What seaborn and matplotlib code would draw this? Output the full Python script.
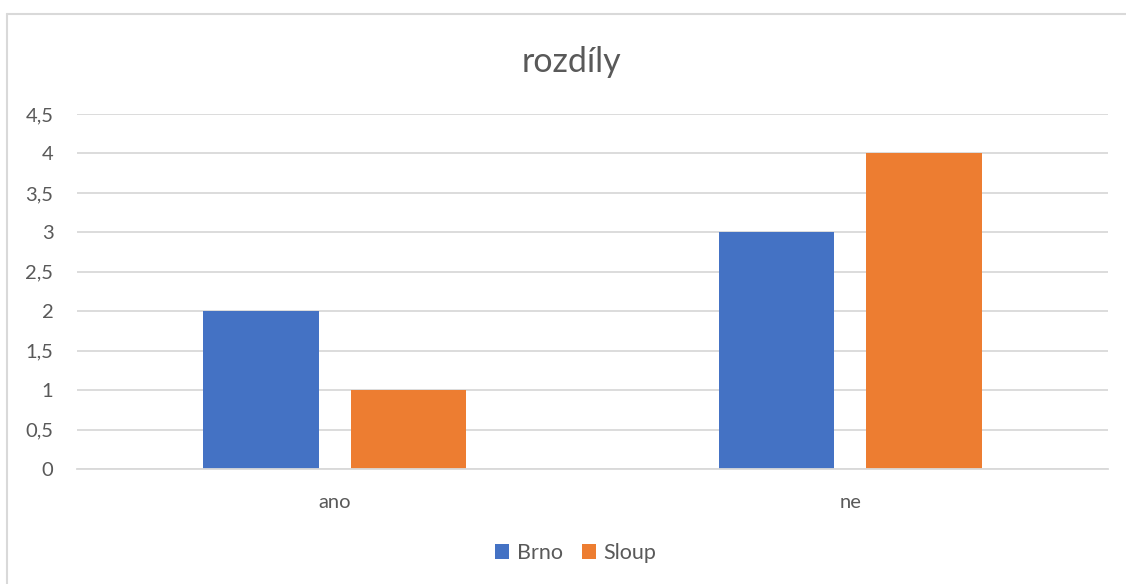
import matplotlib
matplotlib.use("Agg")
import matplotlib.pyplot as plt
import seaborn as sns
import pandas as pd
from matplotlib.lines import Line2D
from matplotlib.patches import Patch
from matplotlib.ticker import FuncFormatter

categories = ["ano", "ne"]
series_names = ["Brno", "Sloup"]
brno = [2, 3]
sloup = [1, 4]
yticks = [0, 0.5, 1, 1.5, 2, 2.5, 3, 3.5, 4, 4.5]
colors = ["#4472C4", "#ED7D31"]

df = pd.DataFrame({
    "kategorie": categories * 2,
    "hodnota": brno + sloup,
    "serie": [series_names[0]] * len(categories) + [series_names[1]] * len(categories),
})

sns.set_theme(style="white")
plt.rcParams["font.family"] = ["Lato", "DejaVu Sans"]
text_color = "#595959"
grid_color = "#D9D9D9"

fig = plt.figure(figsize=(11.26, 5.84), dpi=100)
ax = fig.add_axes([77 / 1126, 1 - 469 / 584, (1108 - 77) / 1126, (469 - 114) / 584])

sns.barplot(data=df, x="kategorie", y="hodnota", hue="serie", order=categories,
            hue_order=series_names, palette=colors, width=0.573, gap=0.218,
            ax=ax, legend=False, saturation=1, linewidth=0)

ax.set_ylim(0, 4.5)
ax.set_xlim(-0.5, 1.5)
ax.set_yticks(yticks)
ax.yaxis.set_major_formatter(FuncFormatter(lambda v, p: (f"{v:g}").replace(".", ",")))
ax.grid(axis="y", color=grid_color, linewidth=1.3)
ax.set_axisbelow(True)
for s in ["top", "right", "left"]:
    ax.spines[s].set_visible(False)
ax.spines["bottom"].set_color(grid_color)
ax.spines["bottom"].set_linewidth(1.3)
ax.tick_params(axis="y", length=0, pad=17, labelsize=14.5, labelcolor=text_color)
ax.tick_params(axis="x", length=0, pad=18, labelsize=14.5, labelcolor=text_color)
ax.set_xlabel("")
ax.set_ylabel("")

fig.text(571 / 1126, 1 - 62 / 584, "rozdíly", ha="center", va="center", fontsize=24.5, color=text_color)

handles = [Patch(facecolor=c, edgecolor="none", label=n) for c, n in zip(colors, series_names)]
fig.legend(handles=handles, loc="center", bbox_to_anchor=(576 / 1126, 1 - 553 / 584),
           ncol=2, frameon=False, fontsize=15.5, handlelength=0.65, handleheight=0.65,
           handletextpad=0.35, columnspacing=0.9, labelcolor=text_color)

# outer chart border (top and left visible)
fig.add_artist(Line2D([7 / 1126, 7 / 1126], [0, 1 - 14 / 584], color=grid_color, linewidth=1.5,
                      transform=fig.transFigure))
fig.add_artist(Line2D([7 / 1126, 1], [1 - 14 / 584, 1 - 14 / 584], color=grid_color, linewidth=1.5,
                      transform=fig.transFigure))

fig.savefig("out.png", dpi=100, facecolor="white")
